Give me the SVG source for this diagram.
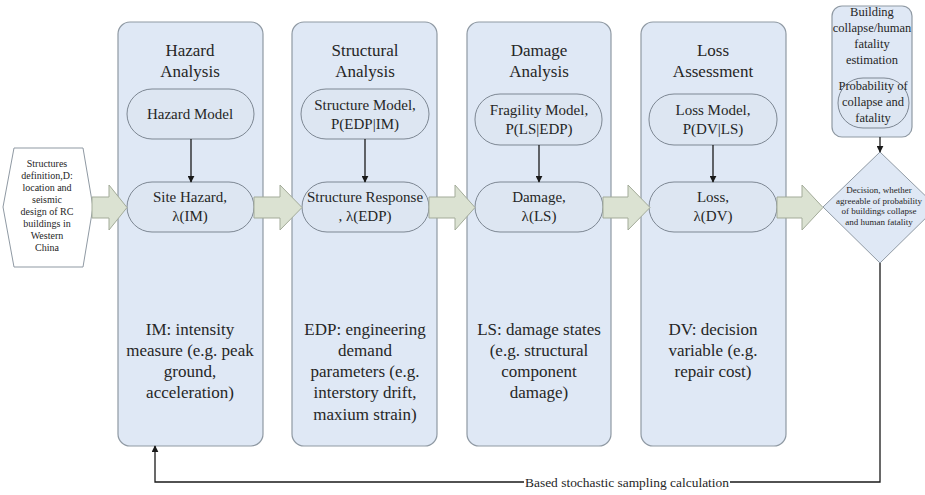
<svg xmlns="http://www.w3.org/2000/svg" width="925" height="495" viewBox="0 0 925 495" font-family="'Liberation Serif', 'Times New Roman', 'DejaVu Serif', serif">
<defs>
<style>
.col{fill:#dfe8f5;stroke:#8f99a3;stroke-width:1.2}
.pill{fill:#dde6f2;stroke:#7d8793;stroke-width:1}
.blk{fill:#dbe2d2;stroke:#a3ab99;stroke-width:1}
text{font-family:'Liberation Serif','Times New Roman','DejaVu Serif',serif}
.t{fill:#262626;text-anchor:middle}
.ttl{font-size:17px}
.pl{font-size:15px}
.bt{font-size:17px}
.sm{font-size:10px}
.rb{font-size:12.5px}
.dm{font-size:9px}
.ln{stroke:#1a1a1a;stroke-width:1.3;fill:none}
</style>
<marker id="ah" viewBox="0 0 10 10" refX="9" refY="5" markerWidth="7" markerHeight="7" orient="auto" markerUnits="userSpaceOnUse">
<path d="M0,0 L10,5 L0,10 z" fill="#1a1a1a"/>
</marker>
</defs>
<rect width="925" height="495" fill="#ffffff"/>

<g id="input">
<polygon points="14,148 83,148 93,207 83,267 14,267 3,207" fill="#ffffff" stroke="#8f99a3" stroke-width="1"/>
<text class="t sm" x="47" y="167">Structures</text>
<text class="t sm" x="47" y="179">definition,D:</text>
<text class="t sm" x="47" y="191">location and</text>
<text class="t sm" x="47" y="203">seismic</text>
<text class="t sm" x="47" y="214.5">design of RC</text>
<text class="t sm" x="47" y="226.5">buildings in</text>
<text class="t sm" x="47" y="238.5">Western</text>
<text class="t sm" x="47" y="250.5">China</text>
</g>

<g id="hazard">
<rect class="col" x="118" y="22" width="145" height="424" rx="12"/>
<text class="t ttl" x="190" y="56">Hazard</text>
<text class="t ttl" x="190" y="77">Analysis</text>
<rect class="pill" x="127" y="89" width="127" height="50" rx="25"/>
<text class="t pl" x="190" y="119">Hazard Model</text>
<rect class="pill" x="127" y="182" width="127" height="50" rx="25"/>
<text class="t pl" x="190" y="202">Site Hazard,</text>
<text class="t pl" x="190" y="221">λ(IM)</text>
<text class="t bt" x="190" y="335">IM: intensity</text>
<text class="t bt" x="190" y="356">measure (e.g. peak</text>
<text class="t bt" x="190" y="377">ground,</text>
<text class="t bt" x="190" y="398">acceleration)</text>
</g>

<g id="structural">
<rect class="col" x="292" y="22" width="145" height="424" rx="12"/>
<text class="t ttl" x="365" y="56">Structural</text>
<text class="t ttl" x="365" y="77">Analysis</text>
<rect class="pill" x="301" y="89" width="128" height="50" rx="25"/>
<text class="t pl" x="365" y="110">Structure Model,</text>
<text class="t pl" x="365" y="129">P(EDP|IM)</text>
<rect class="pill" x="302" y="182" width="127" height="50" rx="25"/>
<text class="t pl" x="365" y="202">Structure Response</text>
<text class="t pl" x="365" y="221">, λ(EDP)</text>
<text class="t bt" x="365" y="335">EDP: engineering</text>
<text class="t bt" x="365" y="356">demand</text>
<text class="t bt" x="365" y="377">parameters (e.g.</text>
<text class="t bt" x="365" y="398">interstory drift,</text>
<text class="t bt" x="365" y="420">maxium strain)</text>
</g>

<g id="damage">
<rect class="col" x="467" y="22" width="144" height="424" rx="12"/>
<text class="t ttl" x="539" y="56">Damage</text>
<text class="t ttl" x="539" y="77">Analysis</text>
<rect class="pill" x="475" y="94" width="127" height="51" rx="25"/>
<text class="t pl" x="539" y="115">Fragility Model,</text>
<text class="t pl" x="539" y="134">P(LS|EDP)</text>
<rect class="pill" x="475" y="182" width="128" height="50" rx="25"/>
<text class="t pl" x="539" y="202">Damage,</text>
<text class="t pl" x="539" y="221">λ(LS)</text>
<text class="t bt" x="539" y="335">LS: damage states</text>
<text class="t bt" x="539" y="356">(e.g. structural</text>
<text class="t bt" x="539" y="377">component</text>
<text class="t bt" x="539" y="398">damage)</text>
</g>

<g id="loss">
<rect class="col" x="641" y="22" width="145" height="424" rx="12"/>
<text class="t ttl" x="713" y="56">Loss</text>
<text class="t ttl" x="713" y="77">Assessment</text>
<rect class="pill" x="649" y="94" width="128" height="51" rx="25"/>
<text class="t pl" x="713" y="115">Loss Model,</text>
<text class="t pl" x="713" y="134">P(DV|LS)</text>
<rect class="pill" x="649" y="182" width="128" height="50" rx="25"/>
<text class="t pl" x="713" y="202">Loss,</text>
<text class="t pl" x="713" y="221">λ(DV)</text>
<text class="t bt" x="713" y="335">DV: decision</text>
<text class="t bt" x="713" y="356">variable (e.g.</text>
<text class="t bt" x="713" y="377">repair cost)</text>
</g>

<g id="estimation">
<rect class="col" x="832" y="6" width="80" height="131" rx="10"/>
<text class="t rb" x="872" y="15.5">Building</text>
<text class="t rb" x="872" y="31.5">collapse/human</text>
<text class="t rb" x="872" y="47.5">fatality</text>
<text class="t rb" x="872" y="63.5">estimation</text>
<rect class="pill" x="838" y="78" width="71" height="50" rx="25"/>
<text class="t rb" x="873" y="90">Probability of</text>
<text class="t rb" x="873" y="106">collapse and</text>
<text class="t rb" x="873" y="122">fatality</text>
</g>

<g id="decision">
<polygon points="880,152 937,207 880,263 823,207" fill="#dfe8f5" stroke="#8f99a3" stroke-width="1"/>
<text class="t dm" x="879" y="193">Decision, whether</text>
<text class="t dm" x="879" y="203.5">agreeable of probability</text>
<text class="t dm" x="879" y="214">of buildings collapse</text>
<text class="t dm" x="879" y="224.5">and human fatality</text>
</g>

<g id="connectors">
<path class="blk" d="M92,197 L109,197 L109,185 L127,207.5 L109,230 L109,218 L92,218 Z"/>
<path class="blk" d="M254,197 L280,197 L280,185 L302,207.5 L280,230 L280,218 L254,218 Z"/>
<path class="blk" d="M429,197 L455,197 L455,185 L475,207.5 L455,230 L455,218 L429,218 Z"/>
<path class="blk" d="M603,197 L628,197 L628,185 L650,207.5 L628,230 L628,218 L603,218 Z"/>
<path class="blk" d="M777,197 L802,197 L802,185 L823,207.5 L802,230 L802,218 L777,218 Z"/>
<line class="ln" x1="191" y1="139" x2="191" y2="182" marker-end="url(#ah)"/>
<line class="ln" x1="365" y1="139" x2="365" y2="182" marker-end="url(#ah)"/>
<line class="ln" x1="539" y1="145" x2="539" y2="182" marker-end="url(#ah)"/>
<line class="ln" x1="713" y1="145" x2="713" y2="182" marker-end="url(#ah)"/>
<line class="ln" x1="880" y1="137" x2="880" y2="152" marker-end="url(#ah)"/>
<polyline class="ln" points="880,263 880,482 730,482"/>
<polyline class="ln" points="524,482 155,482 155,446" marker-end="url(#ah)"/>
<text class="t" x="627" y="486.5" font-size="13.5" textLength="204" lengthAdjust="spacingAndGlyphs">Based stochastic sampling calculation</text>
</g>
</svg>
